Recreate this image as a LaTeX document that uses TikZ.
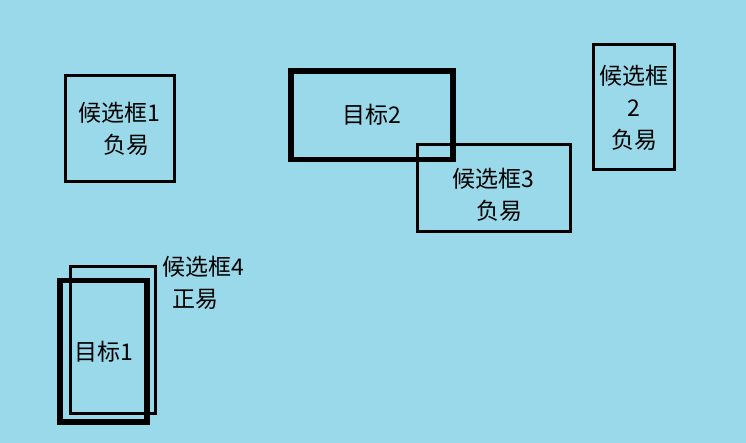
\documentclass[tikz,border=0pt]{standalone}
\usepackage{fontspec}
\setmainfont{Noto Sans CJK SC}
\usetikzlibrary{positioning}
\definecolor{bgblue}{RGB}{153,217,234}

\begin{document}
\begin{tikzpicture}[x=1pt,y=-1pt,
  cand/.style={draw,line width=3pt,align=center,inner sep=0pt,font=\fontsize{23}{32}\selectfont},
  tgt/.style={draw,line width=5.5pt,align=center,inner sep=0pt,font=\fontsize{23}{32}\selectfont},
  lbl/.style={align=center,inner sep=0pt,font=\fontsize{23}{32}\selectfont}]
\fill[bgblue] (0,0) rectangle (746,443);
\useasboundingbox (0,0) rectangle (746,443);
\node[cand,minimum width=108.5pt,minimum height=106pt] (c1) at (119.75,128.5) {候选框1\\\hspace*{14pt}负易};
\node[tgt,minimum width=162pt,minimum height=88.5pt] (t2) at (372,115.25) {目标2};
\node[cand,minimum width=153pt,minimum height=87pt] (c3) at (493.5,188.5) {};
\node[lbl,yshift=-6.5pt] (c3l) at (c3.center) {候选框3\\\hspace*{11pt}负易};
\node[cand,minimum width=81pt,minimum height=125pt] (c2) at (634,107.5) {候选框\\2\\负易};
\node[cand,minimum width=85.5pt,minimum height=147pt] (c4) at (112.75,340) {};
\node[tgt,minimum width=87pt,minimum height=141.5pt] (t1) at (103.5,351.25) {目标1};
\node[lbl] (c4l) at (203,283) {候选框4\\正易\hspace*{15pt}};
\end{tikzpicture}
\end{document}
